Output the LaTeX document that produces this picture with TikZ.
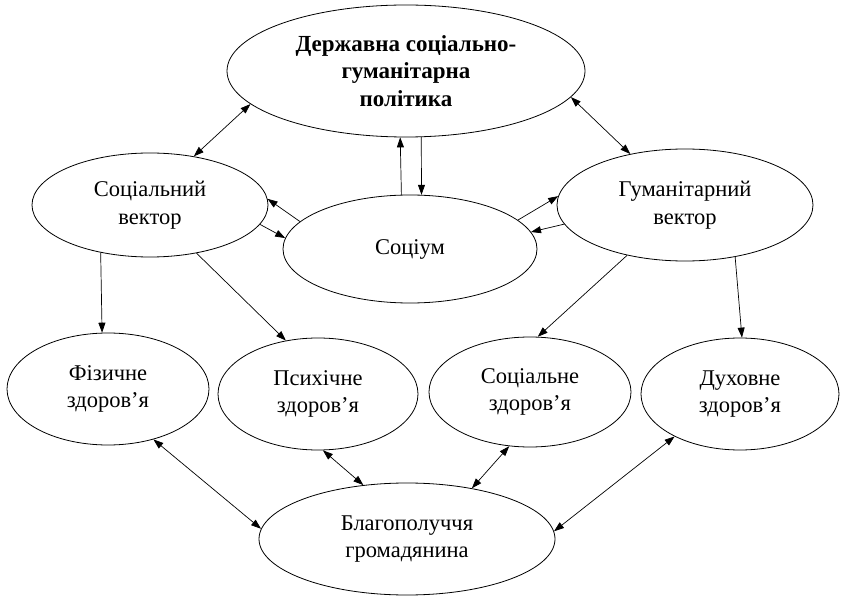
\documentclass[tikz,border=0pt]{standalone}
\usepackage{fontspec}
\setmainfont{Liberation Serif}
\usetikzlibrary{shapes.geometric,arrows.meta}
\begin{document}
\begin{tikzpicture}[x=1pt,y=-1pt,
  ell/.style={draw,ellipse,inner sep=0pt,line width=0.8pt,align=center,
    font=\fontsize{22.5}{27.5}\selectfont},
  conn/.style={line width=0.7pt,-{Triangle[length=10pt,width=7pt]}},
  bconn/.style={line width=0.7pt,{Triangle[length=10pt,width=7pt]}-{Triangle[length=10pt,width=7pt]}}]
\useasboundingbox (0,0) rectangle (844,596);
\node[ell,minimum width=358pt,minimum height=132pt,font=\fontsize{23}{27.5}\selectfont\bfseries] (T) at (406,71) {Державна соціально-\\гуманітарна\\політика};
\node[ell,minimum width=236pt,minimum height=104pt] (S) at (150,205) {Соціальний\\вектор};
\node[ell,minimum width=254pt,minimum height=108pt] (C) at (410,249) {Соціум};
\node[ell,minimum width=256pt,minimum height=112pt] (H) at (685,205) {Гуманітарний\\вектор};
\node[ell,minimum width=202pt,minimum height=112pt] (P) at (108,389) {Фізичне\\здоров’я};
\node[ell,minimum width=200pt,minimum height=112pt] (Q) at (318,394) {Психічне\\здоров’я};
\node[ell,minimum width=202pt,minimum height=110pt] (R) at (530,392) {Соціальне\\здоров’я};
\node[ell,minimum width=198pt,minimum height=112pt] (D) at (740,394) {Духовне\\здоров’я};
\node[ell,minimum width=296pt,minimum height=112pt] (W) at (407,539) {Благополуччя\\громадянина};
% top links
\draw[bconn] (T.192.9) -- (S.48);
\draw[bconn] (T.-9.3) -- (H.137.7);
\draw[conn] (C.99.5) -- (T.265.7);
\draw[conn] (T.-77.2) -- (C.78.5);
% socium links
\draw[conn] (C.166.9) -- (S.3.9);
\draw[conn] (S.-10.3) -- (C.175);
\draw[conn] (C.15.7) -- (H.176.9);
\draw[conn] (H.189.1) -- (C.8.2);
% vectors to health
\draw[conn] (S.224.7) -- (P.96.1);
\draw[conn] (S.-46.8) -- (Q.121.1);
\draw[conn] (H.221.3) -- (R.82.7);
\draw[conn] (H.-46.1) -- (D.88);
% health to wellbeing
\draw[bconn] (P.-48.4) -- (W.176.5);
\draw[bconn] (Q.-85.1) -- (W.129.2);
\draw[bconn] (R.249.2) -- (W.38.2);
\draw[bconn] (D.213.2) -- (W.3.4);
\end{tikzpicture}
\end{document}
